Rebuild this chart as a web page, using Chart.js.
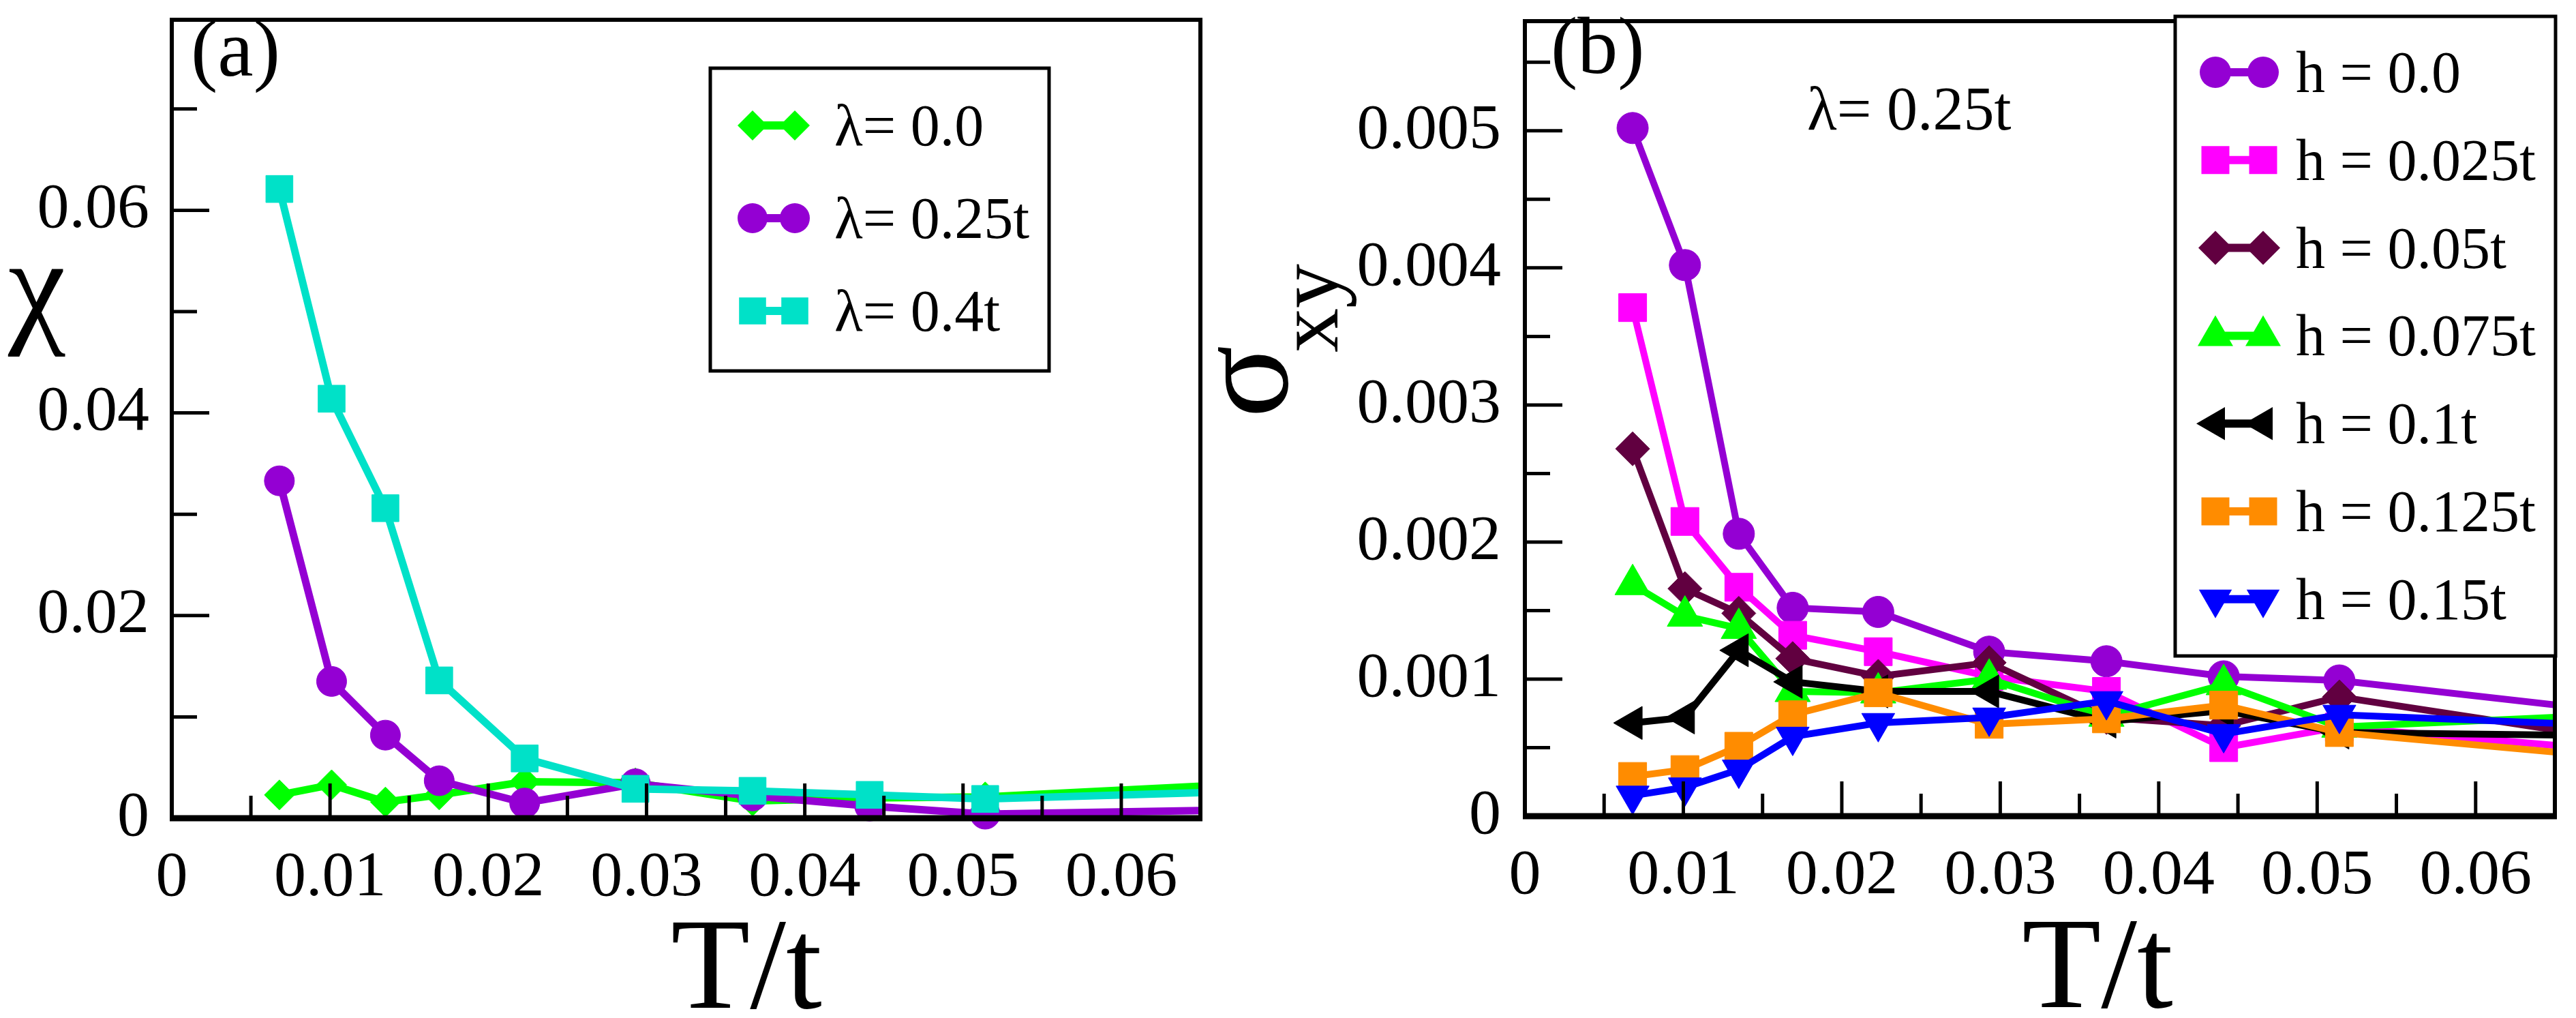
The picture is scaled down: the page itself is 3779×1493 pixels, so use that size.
<!DOCTYPE html>
<html><head><meta charset="utf-8">
<script src="https://cdn.jsdelivr.net/npm/chart.js@4.4.1/dist/chart.umd.min.js"></script>
<style>
html,body{margin:0;padding:0;background:#fff;width:3779px;height:1493px;overflow:hidden}
#wa{position:absolute;left:0;top:0;width:1790px;height:1493px}
#wb{position:absolute;left:1780px;top:0;width:1999px;height:1493px}
canvas{display:block}
</style></head><body>
<div id="wa"><canvas id="ca" width="1790" height="1493" style="width:1790px;height:1493px"></canvas></div>
<div id="wb"><canvas id="cb" width="1999" height="1493" style="width:1999px;height:1493px"></canvas></div>
<script>
// ---- data (T/t values; last point lies just beyond the plotted range) ----
const T = [0.0068, 0.0101, 0.0135, 0.0169, 0.0223, 0.0293, 0.0367, 0.0441, 0.0514, 0.0667];

// panel (a): chi
const chiLam00  = [0.0023, 0.0033, 0.0016, 0.0023, 0.0036, 0.0035, 0.0017, 0.0020, 0.0021, 0.0033];
const chiLam025 = [0.0333, 0.0135, 0.0082, 0.0037, 0.0015, 0.0034, 0.0022, 0.0012, 0.0004, 0.0008];
const chiLam04  = [0.0621, 0.0414, 0.0306, 0.0136, 0.0059, 0.0029, 0.0027, 0.0023, 0.0019, 0.0026];

// panel (b): sigma_xy at lambda = 0.25t
const sxyH0000 = [0.00502, 0.00402, 0.00206, 0.00152, 0.00149, 0.00120, 0.00113, 0.00102, 0.00099, 0.00079];
const sxyH0025 = [0.00371, 0.00215, 0.00167, 0.00132, 0.00120, 0.00102, 0.00091, 0.00050, 0.00065, 0.00050];
const sxyH0050 = [0.00268, 0.00166, 0.00148, 0.00115, 0.00102, 0.00112, 0.00072, 0.00066, 0.00087, 0.00060];
const sxyH0075 = [0.00169, 0.00146, 0.00137, 0.00091, 0.00090, 0.00100, 0.00073, 0.00096, 0.00065, 0.00073];
const sxyH0100 = [0.00068, 0.00072, 0.00121, 0.00098, 0.00091, 0.00091, 0.00069, 0.00077, 0.00061, 0.00059];
const sxyH0125 = [0.00029, 0.00034, 0.00051, 0.00074, 0.00090, 0.00067, 0.00071, 0.00081, 0.00061, 0.00045];
const sxyH0150 = [0.00015, 0.00021, 0.00034, 0.00058, 0.00068, 0.00072, 0.00084, 0.00060, 0.00074, 0.00067];

const legendA = ['λ= 0.0', 'λ= 0.25t', 'λ= 0.4t'];
const legendB = ['h = 0.0', 'h = 0.025t', 'h = 0.05t', 'h = 0.075t', 'h = 0.1t', 'h = 0.125t', 'h = 0.15t'];

// ---- ticks ----
const xTickValues = [0, 0.01, 0.02, 0.03, 0.04, 0.05, 0.06];
const xTickLabels = ['0', '0.01', '0.02', '0.03', '0.04', '0.05', '0.06'];
const xMinorValues = [0.005, 0.015, 0.025, 0.035, 0.045, 0.055];
const yTickValuesA = [0, 0.02, 0.04, 0.06];
const yTickLabelsA = ['0', '0.02', '0.04', '0.06'];
const yMinorValuesA = [0.01, 0.03, 0.05, 0.07];
const yTickValuesB = [0, 0.001, 0.002, 0.003, 0.004, 0.005];
const yTickLabelsB = ['0', '0.001', '0.002', '0.003', '0.004', '0.005'];
const yMinorValuesB = [0.0005, 0.0015, 0.0025, 0.0035, 0.0045, 0.0055];

const FONT = '"Liberation Serif", "DejaVu Serif", serif';
Chart.defaults.font.family = FONT;
Chart.defaults.color = '#000';

function shape(ctx, style, x, y, r, rotDeg) {
  ctx.beginPath();
  if (style === 'circle') {
    ctx.arc(x, y, r, 0, Math.PI * 2);
  } else if (style === 'rect') {
    const s = r * Math.SQRT1_2;
    ctx.rect(x - s, y - s, 2 * s, 2 * s);
  } else if (style === 'rectRot') {
    ctx.moveTo(x - r, y); ctx.lineTo(x, y - r); ctx.lineTo(x + r, y); ctx.lineTo(x, y + r);
  } else if (style === 'triangle') {
    let rad = (rotDeg || 0) * Math.PI / 180;
    ctx.moveTo(x + Math.sin(rad) * r, y - Math.cos(rad) * r);
    rad += 2 * Math.PI / 3;
    ctx.lineTo(x + Math.sin(rad) * r, y - Math.cos(rad) * r);
    rad += 2 * Math.PI / 3;
    ctx.lineTo(x + Math.sin(rad) * r, y - Math.cos(rad) * r);
  }
  ctx.closePath();
  ctx.fill();
}

function overlayPlugin(o) {
  return {
    id: 'overlay' + o.id,
    afterDatasetsDraw(chart) {
      const ctx = chart.ctx, a = chart.chartArea;
      const xs = chart.scales.x, ys = chart.scales.y;
      ctx.save();
      // inward tick marks
      ctx.strokeStyle = '#000';
      ctx.lineWidth = 5;
      ctx.beginPath();
      xTickValues.forEach(v => { const p = xs.getPixelForValue(v); ctx.moveTo(p, a.bottom); ctx.lineTo(p, a.bottom - 51); });
      xMinorValues.forEach(v => { const p = xs.getPixelForValue(v); ctx.moveTo(p, a.bottom); ctx.lineTo(p, a.bottom - 33); });
      o.yMajor.forEach(v => { const p = ys.getPixelForValue(v); ctx.moveTo(a.left, p); ctx.lineTo(a.left + 55, p); });
      o.yMinor.forEach(v => { const p = ys.getPixelForValue(v); ctx.moveTo(a.left, p); ctx.lineTo(a.left + 37, p); });
      ctx.stroke();
      // frame
      ctx.lineWidth = 6;
      ctx.strokeRect(a.left, a.top, a.right - a.left, a.bottom - a.top);
      ctx.lineWidth = 9;
      ctx.beginPath(); ctx.moveTo(a.left - 3, a.bottom); ctx.lineTo(a.right + 3, a.bottom); ctx.stroke();
      // legend box
      const L = o.legend;
      ctx.fillStyle = '#fff';
      ctx.fillRect(L.x0, L.y0, L.x1 - L.x0, L.y1 - L.y0);
      ctx.lineWidth = 5;
      ctx.strokeStyle = '#000';
      ctx.strokeRect(L.x0, L.y0, L.x1 - L.x0, L.y1 - L.y0);
      chart.data.datasets.forEach((ds, i) => {
        const yy = L.row0 + L.step * i;
        ctx.strokeStyle = ds.borderColor;
        ctx.fillStyle = ds.borderColor;
        ctx.lineWidth = 12;
        ctx.beginPath(); ctx.moveTo(L.m0, yy); ctx.lineTo(L.m1, yy); ctx.stroke();
        shape(ctx, ds.pointStyle, L.m0, yy, ds.pointRadius, ds.pointRotation);
        shape(ctx, ds.pointStyle, L.m1, yy, ds.pointRadius, ds.pointRotation);
        ctx.fillStyle = '#000';
        ctx.font = '86px ' + FONT;
        ctx.textAlign = 'left';
        ctx.textBaseline = 'alphabetic';
        ctx.fillText(ds.label, L.tx, yy + 29);
      });
      ctx.restore();
    },
    afterDraw(chart) {
      const ctx = chart.ctx;
      ctx.save();
      ctx.fillStyle = '#000';
      ctx.textBaseline = 'alphabetic';
      // panel letter
      ctx.font = '118px ' + FONT;
      ctx.textAlign = 'left';
      ctx.fillText(o.panel.text, o.panel.x, o.panel.y);
      // x title
      ctx.font = '190px ' + FONT;
      ctx.textAlign = 'center';
      ctx.fillText('T/t', o.xTitle.x, o.xTitle.y);
      o.drawYTitle(ctx);
      if (o.extra) o.extra(ctx);
      ctx.restore();
    }
  };
}

function makeChart(canvasId, o) {
  const datasets = o.series.map((s, i) => ({
    label: s.label,
    data: T.map((t, j) => ({ x: t, y: s.values[j] })),
    borderColor: s.color, backgroundColor: s.color,
    pointBackgroundColor: s.color, pointBorderColor: s.color,
    borderWidth: o.lineW, pointStyle: s.style, pointRadius: s.r, pointHoverRadius: s.r,
    pointRotation: s.rot || 0, pointBorderWidth: 1,
    tension: 0, fill: false, order: o.series.length - i,
    clip: { left: false, top: false, right: 0, bottom: false }
  }));
  const labelFor = (vals, labs) => (v) => {
    let k = 0, best = 1e9;
    vals.forEach((w, i) => { const d = Math.abs(w - v); if (d < best) { best = d; k = i; } });
    return labs[k];
  };
  const noPad = s => { s.paddingTop = 0; s.paddingBottom = 0; s.paddingLeft = 0; s.paddingRight = 0; };
  return new Chart(document.getElementById(canvasId), {
    type: 'line',
    data: { datasets },
    options: {
      responsive: false, animation: false, devicePixelRatio: 1, events: [],
      layout: { padding: o.pad },
      plugins: { legend: { display: false }, tooltip: { enabled: false }, title: { display: false } },
      scales: {
        x: {
          type: 'linear', min: 0, max: 0.065,
          grid: { display: false, drawTicks: false }, border: { display: false },
          afterBuildTicks: s => { s.ticks = xTickValues.map(v => ({ value: v })); },
          afterFit: s => { s.height = o.xH; noPad(s); },
          ticks: { padding: o.xPad, autoSkip: false, maxRotation: 0, minRotation: 0, color: '#000',
                   font: { family: FONT, size: 94 }, callback: labelFor(xTickValues, xTickLabels) }
        },
        y: {
          type: 'linear', min: 0, max: o.yMax,
          grid: { display: false, drawTicks: false }, border: { display: false },
          afterBuildTicks: s => { s.ticks = o.yMajor.map(v => ({ value: v })); },
          afterFit: s => { s.width = o.yW; noPad(s); },
          ticks: { padding: o.yPad, autoSkip: false, color: '#000',
                   font: { family: FONT, size: 94 }, callback: labelFor(o.yMajor, o.yLabels) }
        }
      }
    },
    plugins: [overlayPlugin(o)]
  });
}

// ---- panel (a) ----
makeChart('ca', {
  id: 'A', lineW: 11, yMax: 0.0788, yW: 252, xH: 293, xPad: 32, yPad: 33,
  pad: { left: 0, right: 4, top: 10, bottom: 0 },
  yMajor: yTickValuesA, yLabels: yTickLabelsA, yMinor: yMinorValuesA,
  series: [
    { label: legendA[0], values: chiLam00,  color: '#00ff00', style: 'rectRot', r: 22 },
    { label: legendA[1], values: chiLam025, color: '#9400d3', style: 'circle',  r: 22 },
    { label: legendA[2], values: chiLam04,  color: '#00e1c8', style: 'rect',    r: 28 }
  ],
  legend: { x0: 1042, x1: 1539, y0: 100, y1: 544, row0: 184, step: 136, m0: 1104, m1: 1166, tx: 1224 },
  panel: { text: '(a)', x: 280, y: 111 },
  xTitle: { x: 1095, y: 1478 },
  drawYTitle(ctx) {
    ctx.font = '190px ' + FONT;
    ctx.textAlign = 'left';
    ctx.fillText('χ', 12, 482);
  }
});

// ---- panel (b) ----
makeChart('cb', {
  id: 'B', lineW: 10, yMax: 0.0058, yW: 457, xH: 296, xPad: 32, yPad: 35,
  pad: { left: 0, right: 5, top: 8, bottom: 0 },
  yMajor: yTickValuesB, yLabels: yTickLabelsB, yMinor: yMinorValuesB,
  series: [
    { label: legendB[0], values: sxyH0000, color: '#9400d3', style: 'circle',   r: 23 },
    { label: legendB[1], values: sxyH0025, color: '#ff00ff', style: 'rect',     r: 29 },
    { label: legendB[2], values: sxyH0050, color: '#610040', style: 'rectRot',  r: 25 },
    { label: legendB[3], values: sxyH0075, color: '#00ff00', style: 'triangle', r: 30 },
    { label: legendB[4], values: sxyH0100, color: '#000000', style: 'triangle', r: 28, rot: 270 },
    { label: legendB[5], values: sxyH0125, color: '#ff8c00', style: 'rect',     r: 29 },
    { label: legendB[6], values: sxyH0150, color: '#0000ff', style: 'triangle', r: 28, rot: 180 }
  ],
  legend: { x0: 1411, x1: 1969, y0: 24, y1: 962, row0: 106, step: 128.8, m0: 1470, m1: 1540, tx: 1588 },
  panel: { text: '(b)', x: 495, y: 107 },
  xTitle: { x: 1297, y: 1477 },
  drawYTitle(ctx) {
    ctx.save();
    ctx.translate(108, 613);
    ctx.rotate(-Math.PI / 2);
    ctx.textAlign = 'left';
    ctx.font = '198px ' + FONT;
    ctx.fillText('σ', 0, 0);
    ctx.font = '130px ' + FONT;
    ctx.fillText('xy', 96, 74);
    ctx.restore();
  },
  extra(ctx) {
    ctx.font = '90px ' + FONT;
    ctx.textAlign = 'left';
    ctx.fillText('λ= 0.25t', 871, 190);
  }
});
</script>
</body></html>
